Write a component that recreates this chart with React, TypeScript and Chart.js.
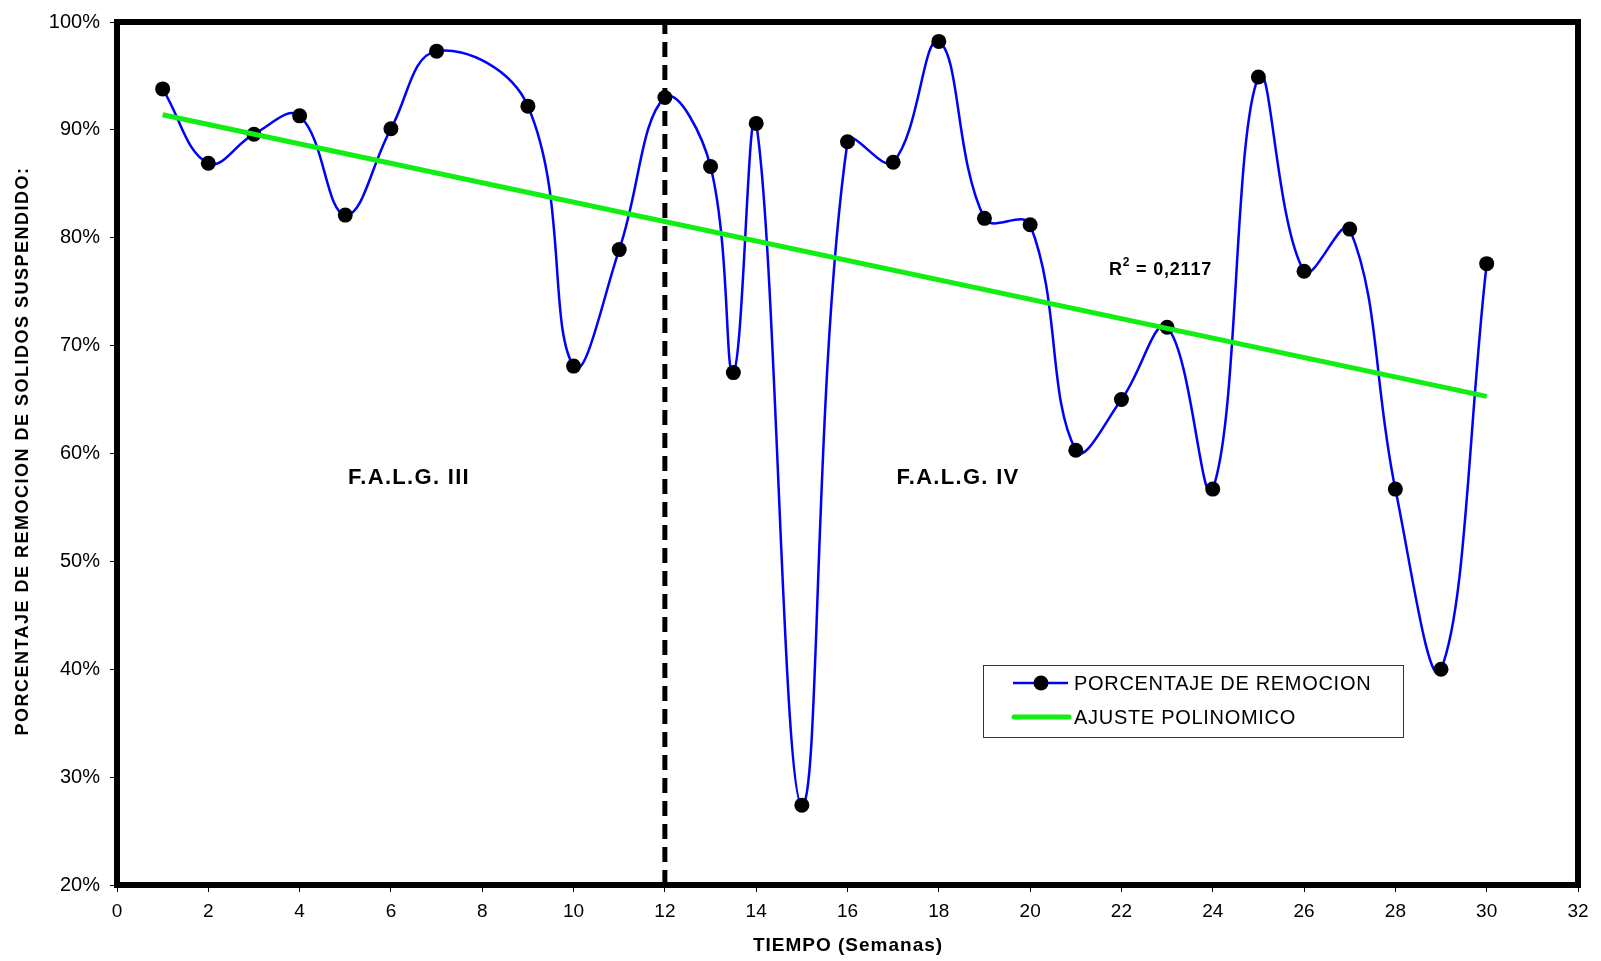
import React, { useEffect, useRef } from "react";
import { Chart, registerables } from "chart.js";

Chart.register(...registerables);

const weeks = [1, 2, 3, 4, 5, 6, 7, 9, 10, 11, 12, 13, 13.5, 14, 15, 16, 17, 18, 19, 20, 21, 22, 23, 24, 25, 26, 27, 28, 29, 30];
const removal = [93.8, 86.9, 89.6, 91.3, 82.1, 90.1, 97.3, 92.2, 68.1, 78.9, 93.0, 86.6, 67.5, 90.6, 27.4, 88.9, 87.0, 98.2, 81.8, 81.2, 60.3, 65.0, 71.7, 56.7, 94.9, 76.9, 80.8, 56.7, 40.0, 77.6];
const trendX = [1, 30];
const trendY = [91.4, 65.3];
const dividerX = [12, 12];
const dividerY = [20, 100];
const xTicks = { min: 0, max: 32, step: 2 };
const yTicks = { min: 20, max: 100, step: 10 };

const seriesLabel = "PORCENTAJE DE REMOCION";
const trendLabel = "AJUSTE POLINOMICO";
const xTitle = "TIEMPO (Semanas)";
const yTitle = "PORCENTAJE DE REMOCION DE SOLIDOS SUSPENDIDO:";
const phaseLabels = ["F.A.L.G. III", "F.A.L.G. IV"];
const r2Value = "0,2117";

const FONT = "Arial, 'Liberation Sans', sans-serif";

const decorPlugin = {
  id: "decor",
  beforeDatasetsDraw(chart: any) {
    const { ctx, chartArea } = chart;
    ctx.save();
    ctx.strokeStyle = "#000";
    ctx.lineWidth = 6;
    ctx.strokeRect(chartArea.left, chartArea.top, chartArea.right - chartArea.left, chartArea.bottom - chartArea.top);
    ctx.restore();
  },
  afterDraw(chart: any) {
    const { ctx } = chart;
    ctx.save();
    ctx.fillStyle = "#000";
    // phase labels
    ctx.font = `bold 22px ${FONT}`;
    (ctx as any).letterSpacing = "1.3px";
    ctx.textAlign = "center";
    ctx.textBaseline = "middle";
    ctx.fillText(phaseLabels[0], 409, 478);
    ctx.fillText(phaseLabels[1], 958, 478);
    // R2
    (ctx as any).letterSpacing = "0.8px";
    ctx.font = `bold 18px ${FONT}`;
    ctx.textAlign = "left";
    const rx = 1109;
    const ry = 270;
    ctx.fillText("R", rx, ry);
    const rw = ctx.measureText("R").width;
    ctx.font = `bold 12px ${FONT}`;
    ctx.fillText("2", rx + rw, ry - 7);
    const sw = ctx.measureText("2").width;
    ctx.font = `bold 18px ${FONT}`;
    ctx.fillText(" = " + r2Value, rx + rw + sw, ry);

    // axis titles
    (ctx as any).letterSpacing = "1.5px";
    ctx.font = `bold 18px ${FONT}`;
    ctx.save();
    ctx.translate(23, 451);
    ctx.rotate(-Math.PI / 2);
    ctx.textAlign = "center";
    ctx.fillText(yTitle, 0, 0);
    ctx.restore();
    (ctx as any).letterSpacing = "1px";
    ctx.font = `bold 19px ${FONT}`;
    ctx.textAlign = "center";
    ctx.fillText(xTitle, 848, 946);

    // legend
    (ctx as any).letterSpacing = "0.7px";
    ctx.fillStyle = "#fff";
    ctx.fillRect(983, 665, 420, 72);
    ctx.strokeStyle = "#333";
    ctx.lineWidth = 1;
    ctx.strokeRect(983.5, 665.5, 420, 72);
    ctx.strokeStyle = "#0000ff";
    ctx.lineWidth = 2.5;
    ctx.beginPath();
    ctx.moveTo(1013, 683);
    ctx.lineTo(1068, 683);
    ctx.stroke();
    ctx.fillStyle = "#000";
    ctx.beginPath();
    ctx.arc(1041, 683, 7.5, 0, Math.PI * 2);
    ctx.fill();
    ctx.strokeStyle = "#11ee11";
    ctx.lineWidth = 5;
    ctx.lineCap = "round";
    ctx.beginPath();
    ctx.moveTo(1014, 717);
    ctx.lineTo(1069, 717);
    ctx.stroke();
    ctx.fillStyle = "#000";
    ctx.font = `20px ${FONT}`;
    ctx.textAlign = "left";
    ctx.fillText(seriesLabel, 1074, 684);
    ctx.fillText(trendLabel, 1074, 718);
    ctx.restore();
  },
};

export default function App() {
  const ref = useRef<HTMLCanvasElement>(null);
  useEffect(() => {
    if (!ref.current) return;
    const chart = new Chart(ref.current, {
      type: "line",
      data: {
        datasets: [
          {
            label: trendLabel,
            data: trendX.map((x, i) => ({ x, y: trendY[i] })),
            borderColor: "#11ee11",
            borderWidth: 5,
            pointRadius: 0,
            tension: 0,
            order: 0,
          },
          {
            label: seriesLabel,
            data: weeks.map((x, i) => ({ x, y: removal[i] })),
            borderColor: "#0000ff",
            borderWidth: 2.5,
            pointRadius: 7.5,
            pointBackgroundColor: "#000",
            pointBorderColor: "#000",
            pointBorderWidth: 0,
            tension: 0.4,
            order: 1,
          },
          {
            label: "divider",
            data: dividerX.map((x, i) => ({ x, y: dividerY[i] })),
            borderColor: "#000",
            borderWidth: 5,
            borderDash: [15, 8],
            pointRadius: 0,
            tension: 0,
            order: 2,
          },
        ],
      },
      options: {
        animation: false,
        responsive: true,
        maintainAspectRatio: false,
        layout: { padding: { top: 20, right: 23, left: 0, bottom: 0 } },
        plugins: { legend: { display: false }, tooltip: { enabled: false } },
        scales: {
          x: {
            type: "linear",
            min: xTicks.min,
            max: xTicks.max,
            afterFit: (s: any) => {
              s.height = 76;
            },
            ticks: { stepSize: xTicks.step, color: "#000", font: { family: FONT, size: 19 }, padding: 8, maxRotation: 0 },
            grid: { drawOnChartArea: false, drawTicks: true, tickLength: 7, color: "#000", lineWidth: 1 },
            border: { display: false },
          },
          y: {
            type: "linear",
            min: yTicks.min,
            max: yTicks.max,
            afterFit: (s: any) => {
              s.width = 117;
            },
            ticks: { stepSize: yTicks.step, color: "#000", font: { family: FONT, size: 20 }, padding: 10, callback: (v: any) => v + "%" },
            grid: { drawOnChartArea: false, drawTicks: true, tickLength: 7, color: "#000", lineWidth: 1 },
            border: { display: false },
          },
        },
      },
      plugins: [decorPlugin],
    });
    return () => chart.destroy();
  }, []);
  return (
    <div style={{ position: "fixed", left: 0, top: 0, width: 1601, height: 961, background: "#fff" }}>
      <canvas ref={ref} />
    </div>
  );
}
